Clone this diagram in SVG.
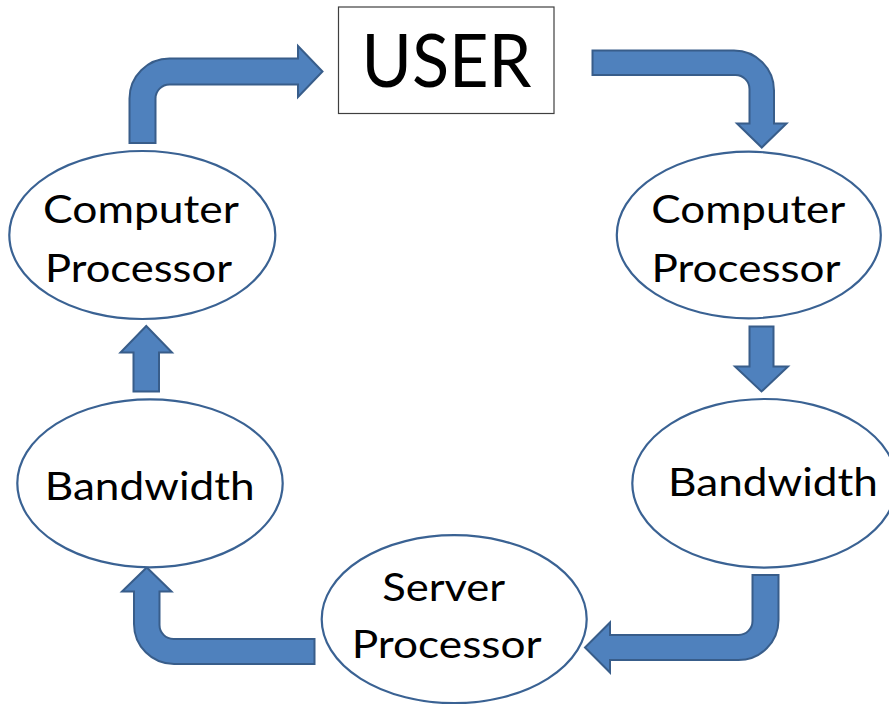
<svg xmlns="http://www.w3.org/2000/svg" width="889" height="704" viewBox="0 0 889 704">
  <style>
    .node ellipse { fill: #ffffff; stroke: #3a6293; stroke-width: 2.2; }
    .box { fill: #ffffff; stroke: #3f3f3f; stroke-width: 1.2; }
    .label { font-family: Lato, "Open Sans", "Liberation Sans", sans-serif; font-size: 39px; fill: #000000; text-anchor: middle; }
    .big { font-size: 73px; }
    .arrow { fill: #4f81bd; stroke: #385d8a; stroke-width: 2; stroke-linejoin: miter; }
  </style>

  <rect width="889" height="704" fill="#ffffff"/>

  <!-- connectors: block arrows -->
  <g id="connectors">
    <!-- left processor up and over to USER -->
    <path class="arrow" d="M129.5,143 V98.5 A40,40 0 0 1 169.5,58.5 H298 V46 L322.5,71.5 L298,97 V84.5 H169.5 A14,14 0 0 0 155.5,98.5 V143 Z"/>
    <!-- USER across and down to right processor -->
    <path class="arrow" d="M592.5,50.5 H734 A40,40 0 0 1 774,90.5 V123.5 H786.5 L761.75,147.5 L737,123.5 H749.5 V89 A14,14 0 0 0 735.5,75 H592.5 Z"/>
    <!-- right processor down to right bandwidth -->
    <path class="arrow" d="M749.5,326.5 H773.5 V366.5 H788 L761.5,391.5 L735,366.5 H749.5 Z"/>
    <!-- right bandwidth down and left to server -->
    <path class="arrow" d="M752.5,575 H778.5 V620 A40,40 0 0 1 738.5,660 H610 V672.5 L585,647.5 L610,622.5 V635 H738.5 A14,14 0 0 0 752.5,621 Z"/>
    <!-- server left and up to left bandwidth -->
    <path class="arrow" d="M314.5,639 H173.5 A14,14 0 0 1 159.5,625 V591.5 H171.5 L146.75,567.5 L122,591.5 H134 V624 A40,40 0 0 0 174,664 H314.5 Z"/>
    <!-- left bandwidth up to left processor -->
    <path class="arrow" d="M133.5,391.5 V352.5 H120.5 L146.25,326 L172,352.5 H159 V391.5 Z"/>
  </g>

  <g id="user" class="node">
    <rect class="box" x="338.5" y="7" width="215.5" height="106.5"/>
    <text class="label big" x="446.5" y="87.3" textLength="170" lengthAdjust="spacingAndGlyphs">USER</text>
  </g>

  <g id="client-processor-left" class="node">
    <ellipse cx="142.3" cy="235" rx="133" ry="84"/>
    <text class="label" x="141" y="223.3" textLength="196" lengthAdjust="spacingAndGlyphs">Computer</text>
    <text class="label" x="138.5" y="281.7" textLength="187" lengthAdjust="spacingAndGlyphs">Processor</text>
  </g>

  <g id="client-processor-right" class="node">
    <ellipse cx="748.8" cy="235" rx="132" ry="83.3"/>
    <text class="label" x="748.3" y="223.3" textLength="194" lengthAdjust="spacingAndGlyphs">Computer</text>
    <text class="label" x="746" y="281.7" textLength="189" lengthAdjust="spacingAndGlyphs">Processor</text>
  </g>

  <g id="bandwidth-left" class="node">
    <ellipse cx="150" cy="483.3" rx="132.7" ry="84"/>
    <text class="label" x="149.7" y="500" textLength="210" lengthAdjust="spacingAndGlyphs">Bandwidth</text>
  </g>

  <g id="bandwidth-right" class="node">
    <ellipse cx="764.5" cy="483.3" rx="132.2" ry="84.3"/>
    <text class="label" x="773" y="496" textLength="210" lengthAdjust="spacingAndGlyphs">Bandwidth</text>
  </g>

  <g id="server-processor" class="node">
    <ellipse cx="454.2" cy="619.2" rx="132.5" ry="84"/>
    <text class="label" x="443.7" y="601" textLength="123" lengthAdjust="spacingAndGlyphs">Server</text>
    <text class="label" x="446.7" y="658.3" textLength="190" lengthAdjust="spacingAndGlyphs">Processor</text>
  </g>
</svg>
